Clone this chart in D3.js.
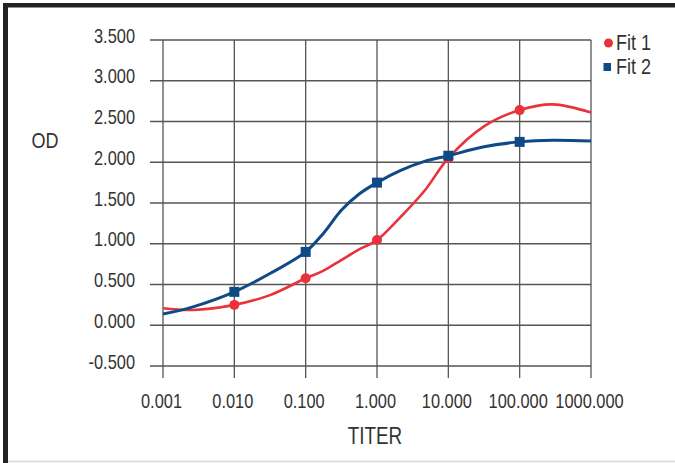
<!DOCTYPE html>
<html>
<head>
<meta charset="utf-8">
<script src="https://cdn.jsdelivr.net/npm/d3@7"></script>
<style>
  body { margin: 0; background: #fff; }
  text { font-family: "Liberation Sans", Arial, sans-serif; fill: #333; }
</style>
</head>
<body>
<div id="chart"></div>
<script>
// ticks
const titerTicks = [0.001, 0.01, 0.1, 1, 10, 100, 1000];
const odTicks = [-0.5, 0, 0.5, 1, 1.5, 2, 2.5, 3, 3.5];

// measured points
const pointTiter = [0.01, 0.1, 1, 10, 100];
const fit1Points = [0.25, 0.576, 1.045, 2.05, 2.64];
const fit2Points = [0.41, 0.90, 1.75, 2.08, 2.25];

// fitted curves
const curveTiter = [0.001, 0.00263, 0.01, 0.0316, 0.1, 0.178, 0.316, 0.562, 1, 2.15, 4.64, 10, 31.6, 100, 290, 1000];
const fit1Curve = [0.208, 0.187, 0.25, 0.37, 0.576, 0.67, 0.80, 0.93, 1.045, 1.33, 1.65, 2.05, 2.44, 2.64, 2.71, 2.61];
const fit2Curve = [0.138, 0.226, 0.41, 0.635, 0.90, 1.13, 1.41, 1.61, 1.75, 1.90, 2.01, 2.08, 2.19, 2.25, 2.27, 2.26];

const W = 675, H = 463;
const narrow = 0.82; // the picture uses a condensed face
const fmt = d => d3.format(".3f")(d).replace("\u2212", "-");

const svg = d3.select("#chart").append("svg")
    .attr("width", W)
    .attr("height", H);

// frame
svg.append("rect").attr("x", 3).attr("y", 3).attr("width", 5).attr("height", H - 3).attr("fill", "#222");
svg.append("rect").attr("x", 3).attr("y", 3).attr("width", W - 3).attr("height", 4.5).attr("fill", "#222");
svg.append("rect").attr("x", 8).attr("y", H - 2.5).attr("width", W - 8).attr("height", 2).attr("fill", "#ddd");

const x = d3.scaleLog().domain([0.001, 1000]).range([163, 591]);
const y = d3.scaleLinear().domain([-0.5, 3.5]).range([366, 40]);

const grid = "#555";

function label(sel, px, py, size, anchor, txt) {
    sel.append("text")
        .attr("transform", `translate(${px},${py}) scale(${narrow},1)`)
        .attr("text-anchor", anchor)
        .style("font-size", size + "px")
        .text(txt);
}

// horizontal grid + y labels
svg.append("g").selectAll("line")
    .data(odTicks).enter().append("line")
    .attr("x1", 150).attr("x2", x(1000))
    .attr("y1", d => y(d)).attr("y2", d => y(d))
    .attr("stroke", grid).attr("stroke-width", 1.3);

const yLab = svg.append("g");
odTicks.forEach(d => label(yLab, 135, y(d) + 2.5, 20, "end", fmt(d)));

// vertical grid + x labels
svg.append("g").selectAll("line")
    .data(titerTicks).enter().append("line")
    .attr("x1", d => x(d)).attr("x2", d => x(d))
    .attr("y1", y(3.5)).attr("y2", 378)
    .attr("stroke", grid).attr("stroke-width", 1.3);

const xLab = svg.append("g");
titerTicks.forEach(d => label(xLab, x(d) - 1.5, 408, 20, "middle", fmt(d)));

// axis titles
label(svg, 45, 148, 22, "middle", "OD");
label(svg, 375, 444, 23, "middle", "TITER");

// curves
const line = d3.line()
    .x(d => x(d[0]))
    .y(d => y(d[1]))
    .curve(d3.curveCatmullRom.alpha(0.5));

const red = "#e8333a", blue = "#0e4a85";

svg.append("path")
    .datum(curveTiter.map((t, i) => [t, fit1Curve[i]]))
    .attr("d", line).attr("fill", "none")
    .attr("stroke", red).attr("stroke-width", 2.6);

svg.append("path")
    .datum(curveTiter.map((t, i) => [t, fit2Curve[i]]))
    .attr("d", line).attr("fill", "none")
    .attr("stroke", blue).attr("stroke-width", 3);

// markers
svg.append("g").selectAll("circle")
    .data(pointTiter.map((t, i) => [t, fit1Points[i]]))
    .enter().append("circle")
    .attr("cx", d => x(d[0])).attr("cy", d => y(d[1]))
    .attr("r", 5).attr("fill", red);

svg.append("g").selectAll("rect")
    .data(pointTiter.map((t, i) => [t, fit2Points[i]]))
    .enter().append("rect")
    .attr("x", d => x(d[0]) - 5).attr("y", d => y(d[1]) - 5)
    .attr("width", 10).attr("height", 10).attr("fill", blue);

// legend
svg.append("circle").attr("cx", 608.5).attr("cy", 43).attr("r", 4.5).attr("fill", red);
label(svg, 616, 50, 22, "start", "Fit 1");
svg.append("rect").attr("x", 603.5).attr("y", 63).attr("width", 7.5).attr("height", 8).attr("fill", blue);
label(svg, 616, 74, 22, "start", "Fit 2");
</script>
</body>
</html>
